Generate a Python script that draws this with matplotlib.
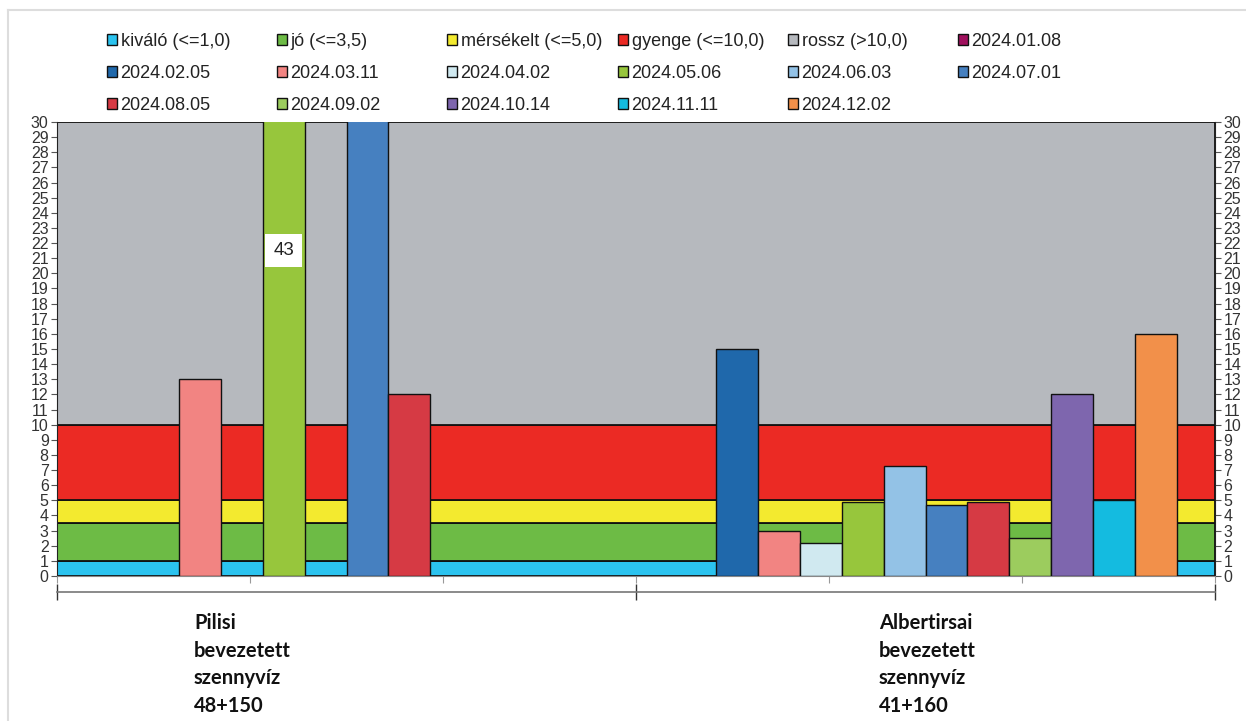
import numpy as np
import matplotlib
matplotlib.use("Agg")
import matplotlib.pyplot as plt
from matplotlib.patches import Patch
from matplotlib.lines import Line2D

plt.rcParams['font.family'] = ['Liberation Sans', 'DejaVu Sans']

# ---------------- data ----------------
categories = ["Pilisi\nbevezetett\nszennyvíz\n48+150",
              "Albertirsai\nbevezetett\nszennyvíz\n41+160"]

band_names = ["kiváló (<=1,0)", "jó (<=3,5)", "mérsékelt (<=5,0)",
              "gyenge (<=10,0)", "rossz (>10,0)"]
band_thickness = [1.0, 2.5, 1.5, 5.0, 20.0]   # stacked: 1, 3.5, 5, 10, 30
band_colors = ["#2BC3EF", "#6DBB45", "#F3EA2F", "#EB2A24", "#B6B9BE"]

series_names = ["2024.01.08", "2024.02.05", "2024.03.11", "2024.04.02",
                "2024.05.06", "2024.06.03", "2024.07.01", "2024.08.05",
                "2024.09.02", "2024.10.14", "2024.11.11", "2024.12.02"]
series_colors = ["#A0105E", "#1F68AB", "#F28482", "#D0E9F0",
                 "#97C63C", "#93C2E6", "#4680C0", "#D63A44",
                 "#9CCC5E", "#7E66AE", "#14BBE0", "#F2904A"]
nan = np.nan
# values per series: [Pilisi, Albertirsai]
series_values = [
    [nan, nan],   # 2024.01.08
    [nan, 15.0],  # 2024.02.05
    [13.0, 3.0],  # 2024.03.11
    [nan, 2.2],   # 2024.04.02
    [43.0, 4.9],  # 2024.05.06
    [nan, 7.3],   # 2024.06.03
    [32.0, 4.7],  # 2024.07.01
    [12.0, 4.9],  # 2024.08.05
    [nan, 2.5],   # 2024.09.02
    [nan, 12.0],  # 2024.10.14
    [nan, 5.0],   # 2024.11.11
    [nan, 16.0],  # 2024.12.02
]
labelled = {4: [0]}   # series index -> category indices that carry a data label

y_max = 30
y_ticks = list(range(0, 31))

# ---------------- figure ----------------
W, H = 1246, 721
fig = plt.figure(figsize=(W / 100, H / 100), dpi=100, facecolor="white")

# faint outer frame (top & left)
fig.add_artist(Line2D([8 / W, 1], [1 - 10 / H, 1 - 10 / H], transform=fig.transFigure,
                      color="#DDDDDD", lw=1.5))
fig.add_artist(Line2D([8 / W, 8 / W], [0, 1 - 10 / H], transform=fig.transFigure,
                      color="#DDDDDD", lw=1.5))

x0, x1 = 57, 1215
yt, yb = 122, 576
ax = fig.add_axes([x0 / W, 1 - yb / H, (x1 - x0) / W, (yb - yt) / H])
ax.set_xlim(0, len(categories))
ax.set_ylim(0, y_max)

# background quality bands
xs = np.array([0, len(categories)])
bottom = 0.0
for thick, col in zip(band_thickness, band_colors):
    ax.fill_between(xs, bottom, bottom + thick, facecolor=col,
                    edgecolor="#111111", linewidth=1.3, zorder=1)
    bottom += thick

# bars
n = len(series_names)
bw = 0.0725
gap = (1 - n * bw) / 2
cat_idx = np.arange(len(categories))
for i, (vals, col) in enumerate(zip(series_values, series_colors)):
    xpos = cat_idx + gap + (i + 0.5) * bw
    ax.bar(xpos, vals, width=bw, color=col, edgecolor="#111111",
           linewidth=1.0, zorder=3)
    for k in labelled.get(i, []):
        ax.text(xpos[k], vals[k] / 2, f"{vals[k]:g}", ha="center", va="center",
                fontsize=13.5, color="#222222", zorder=5,
                bbox=dict(facecolor="white", edgecolor="none", pad=6))

# axes styling
ax.spines["top"].set_visible(False)
ax.spines["left"].set_color("#222222")
ax.spines["right"].set_color("#222222")
ax.spines["bottom"].set_color("#888888")
ax.set_yticks(y_ticks)
ax.tick_params(axis="y", which="both", left=True, right=True, labelleft=True,
               labelright=True, length=4, width=0.8, color="#555555",
               labelsize=11.5, pad=2, labelcolor="#333333")
ax.set_xticks(np.linspace(0, len(categories), 7))
ax.tick_params(axis="x", length=5, width=0.8, color="#999999", labelbottom=False,
               direction="out")

# category axis line below
yc = 592
axc = fig.add_axes([x0 / W, 1 - yc / H, (x1 - x0) / W, 0.001])
axc.set_xlim(0, len(categories))
axc.patch.set_visible(False)
for s in ["top", "left", "right"]:
    axc.spines[s].set_visible(False)
axc.spines["bottom"].set_color("#777777")
axc.spines["bottom"].set_linewidth(1.2)
axc.set_yticks([])
axc.set_xticks(np.arange(len(categories) + 1))
axc.tick_params(axis="x", direction="inout", length=12, width=1.0, color="#333333",
                labelbottom=False)

# category labels (bold, multi-line)
label_x = [194, 879]
for cx, txt in zip(label_x, categories):
    fig.text(cx / W, 1 - 613 / H, txt, ha="left", va="top", fontsize=14.5,
             fontweight="bold", family=["Lato", "DejaVu Sans"], color="#111111",
             linespacing=1.48)

# legend: row-major grid of 6 columns, built as column legends
handles = [Patch(facecolor=c, edgecolor="#111111", linewidth=1.0, label=l)
           for l, c in zip(band_names + series_names, band_colors + series_colors)]
ncol = 6
col_x = [107, 277, 447, 618, 788, 958]
for j in range(ncol):
    hs = handles[j::ncol]
    fig.legend(handles=hs, loc="upper left",
               bbox_to_anchor=(col_x[j] / W, 1 - 33 / H),
               frameon=False, fontsize=13, handlelength=0.55, handleheight=0.55,
               handletextpad=0.2, labelspacing=0.82, borderpad=0, borderaxespad=0,
               labelcolor="#222222")

fig.savefig("out.png", dpi=100, facecolor="white")
